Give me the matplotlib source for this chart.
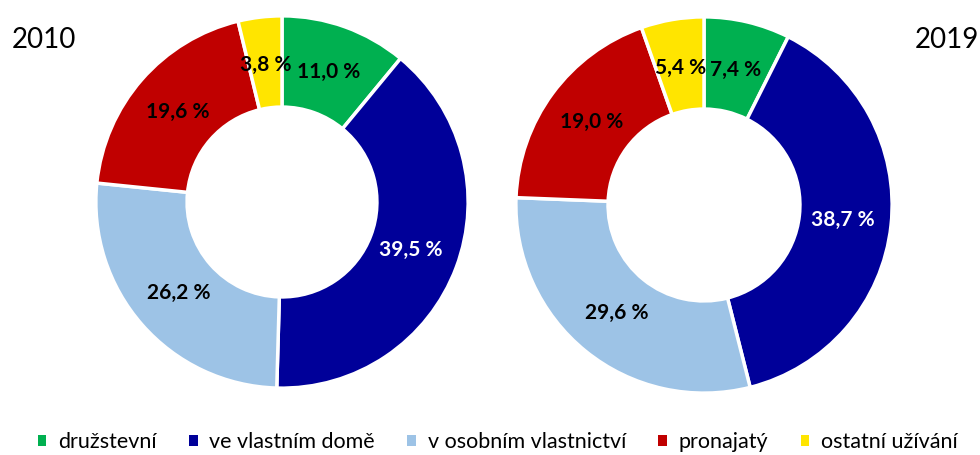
import matplotlib.pyplot as plt
from matplotlib.patches import Patch

# data
categories = ['družstevní', 've vlastním domě', 'v osobním vlastnictví', 'pronajatý', 'ostatní užívání']
colors = ['#00B050', '#000099', '#9DC3E6', '#C00000', '#FFE500']
label_colors = ['black', 'white', 'black', 'black', 'black']
years = ['2010', '2019']
values_2010 = [11.0, 39.5, 26.2, 19.6, 3.8]
values_2019 = [7.4, 38.7, 29.6, 19.0, 5.4]

plt.rcParams['font.family'] = ['Lato', 'DejaVu Sans']

W, H = 980, 455
fig = plt.figure(figsize=(W / 100, H / 100), dpi=100)


def donut(cx, cy, r, vals):
    ax = fig.add_axes([(cx - r) / W, (H - cy - r) / H, 2 * r / W, 2 * r / H])
    wedges, texts, autotexts = ax.pie(
        vals, colors=colors, startangle=90, counterclock=False,
        radius=1.0, pctdistance=0.74,
        autopct=lambda p: '',
        wedgeprops=dict(width=0.49, edgecolor='white', linewidth=2.5))
    for t, v, c in zip(autotexts, vals, label_colors):
        t.set_text(f'{v:.1f} %'.replace('.', ','))
        t.set_color(c)
        t.set_fontsize(15)
        t.set_fontweight('bold')
    ax.set_aspect('equal')
    ax.set_xlim(-1.01, 1.01)
    ax.set_ylim(-1.01, 1.01)
    ax.axis('off')
    return ax


donut(282, 202, 188, values_2010)
donut(704, 205, 190, values_2019)

fig.text(12 / W, 1 - 40 / H, years[0], fontsize=20, va='center', ha='left')
fig.text(915 / W, 1 - 40 / H, years[1], fontsize=20, va='center', ha='left')

handles = [Patch(facecolor=c, edgecolor='none') for c in colors]
fig.legend(handles, categories, loc='center', bbox_to_anchor=(0.508, 1 - 442 / H),
           ncol=5, frameon=False, fontsize=15.5, handlelength=0.4, handleheight=0.4,
           handletextpad=0.55, columnspacing=1.5)

fig.savefig('out.png', dpi=100)
